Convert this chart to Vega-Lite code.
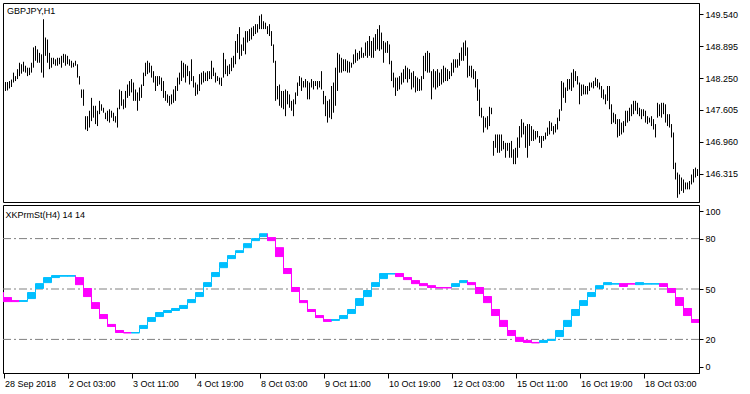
{
"$schema":"https://vega.github.io/schema/vega-lite/v6.json",
"padding":{"left":2,"top":2,"right":0,"bottom":0},
"spacing":1,
"background":"white",
"config":{
"view":{"stroke":"#000","strokeWidth":1},
"axis":{"labelFont":"Liberation Sans","labelFontSize":9,"labelColor":"#000","tickColor":"#000","domainColor":"#000","grid":false,"title":null},
"title":{"font":"Liberation Sans","fontSize":9,"fontWeight":"normal","color":"#000","anchor":"start"}
},
"datasets":{
"bars":[
{"i":1,"h":148.17,"l":147.99},{"i":2,"h":148.17,"l":148.00},{"i":3,"h":148.19,"l":148.04},{"i":4,"h":148.22,"l":148.07},{"i":5,"h":148.36,"l":148.16},{"i":6,"h":148.29,"l":148.19},{"i":7,"h":148.43,"l":148.23},{"i":8,"h":148.56,"l":148.29},{"i":9,"h":148.53,"l":148.34},{"i":10,"h":148.58,"l":148.38},
{"i":11,"h":148.50,"l":148.36},{"i":12,"h":148.46,"l":148.29},{"i":13,"h":148.46,"l":148.31},{"i":14,"h":148.56,"l":148.36},{"i":15,"h":148.87,"l":148.46},{"i":16,"h":148.90,"l":148.60},{"i":17,"h":148.83,"l":148.56},{"i":18,"h":148.76,"l":148.56},{"i":19,"h":148.73,"l":148.36},{"i":20,"h":149.44,"l":148.26},
{"i":21,"h":149.07,"l":148.70},{"i":22,"h":149.03,"l":148.56},{"i":23,"h":148.76,"l":148.43},{"i":24,"h":148.66,"l":148.46},{"i":25,"h":148.66,"l":148.53},{"i":26,"h":148.63,"l":148.50},{"i":27,"h":148.66,"l":148.50},{"i":28,"h":148.66,"l":148.53},{"i":29,"h":148.70,"l":148.46},{"i":30,"h":148.74,"l":148.56},
{"i":31,"h":148.73,"l":148.50},{"i":32,"h":148.70,"l":148.53},{"i":33,"h":148.63,"l":148.50},{"i":34,"h":148.60,"l":148.46},{"i":35,"h":148.56,"l":148.47},{"i":36,"h":148.60,"l":148.50},{"i":37,"h":148.53,"l":148.26},{"i":38,"h":148.29,"l":148.12},{"i":39,"h":148.02,"l":147.85},{"i":40,"h":148.02,"l":147.69},
{"i":41,"h":147.48,"l":147.21},{"i":42,"h":147.48,"l":147.18},{"i":43,"h":147.59,"l":147.25},{"i":44,"h":147.85,"l":147.38},{"i":45,"h":147.69,"l":147.45},{"i":46,"h":147.69,"l":147.32},{"i":47,"h":147.59,"l":147.28},{"i":48,"h":147.79,"l":147.52},{"i":49,"h":147.72,"l":147.59},{"i":50,"h":147.65,"l":147.55},
{"i":51,"h":147.55,"l":147.42},{"i":52,"h":147.59,"l":147.38},{"i":53,"h":147.62,"l":147.35},{"i":54,"h":147.59,"l":147.45},{"i":55,"h":147.55,"l":147.38},{"i":56,"h":147.48,"l":147.35},{"i":57,"h":147.65,"l":147.25},{"i":58,"h":148.02,"l":147.62},{"i":59,"h":147.99,"l":147.69},{"i":60,"h":147.82,"l":147.62},
{"i":61,"h":147.99,"l":147.65},{"i":62,"h":148.12,"l":147.85},{"i":63,"h":148.19,"l":147.89},{"i":64,"h":148.23,"l":147.96},{"i":65,"h":148.16,"l":147.79},{"i":66,"h":148.02,"l":147.79},{"i":67,"h":147.96,"l":147.59},{"i":68,"h":148.06,"l":147.79},{"i":69,"h":148.12,"l":147.85},{"i":70,"h":148.36,"l":148.09},
{"i":71,"h":148.56,"l":148.29},{"i":72,"h":148.60,"l":148.33},{"i":73,"h":148.56,"l":148.36},{"i":74,"h":148.50,"l":148.26},{"i":75,"h":148.39,"l":148.16},{"i":76,"h":148.29,"l":147.99},{"i":77,"h":148.29,"l":148.09},{"i":78,"h":148.29,"l":148.12},{"i":79,"h":148.26,"l":147.99},{"i":80,"h":148.19,"l":147.85},
{"i":81,"h":147.99,"l":147.79},{"i":82,"h":147.92,"l":147.75},{"i":83,"h":147.89,"l":147.69},{"i":84,"h":147.92,"l":147.72},{"i":85,"h":148.02,"l":147.75},{"i":86,"h":148.09,"l":147.79},{"i":87,"h":148.26,"l":147.99},{"i":88,"h":148.36,"l":148.12},{"i":89,"h":148.60,"l":148.19},{"i":90,"h":148.56,"l":148.26},
{"i":91,"h":148.53,"l":148.16},{"i":92,"h":148.50,"l":148.29},{"i":93,"h":148.39,"l":148.12},{"i":94,"h":148.63,"l":148.19},{"i":95,"h":148.29,"l":148.06},{"i":96,"h":148.16,"l":147.89},{"i":97,"h":148.12,"l":147.92},{"i":98,"h":148.33,"l":147.99},{"i":99,"h":148.36,"l":148.12},{"i":100,"h":148.39,"l":148.16},
{"i":101,"h":148.36,"l":148.19},{"i":102,"h":148.39,"l":148.19},{"i":103,"h":148.39,"l":148.23},{"i":104,"h":148.60,"l":148.23},{"i":105,"h":148.46,"l":148.29},{"i":106,"h":148.36,"l":148.16},{"i":107,"h":148.29,"l":148.19},{"i":108,"h":148.26,"l":148.12},{"i":109,"h":148.26,"l":148.09},{"i":110,"h":148.76,"l":148.26},
{"i":111,"h":148.63,"l":148.33},{"i":112,"h":148.50,"l":148.29},{"i":113,"h":148.53,"l":148.33},{"i":114,"h":148.66,"l":148.39},{"i":115,"h":148.70,"l":148.46},{"i":116,"h":149.00,"l":148.53},{"i":117,"h":149.14,"l":148.76},{"i":118,"h":149.28,"l":148.63},{"i":119,"h":148.93,"l":148.70},{"i":120,"h":149.07,"l":148.80},
{"i":121,"h":149.20,"l":148.73},{"i":122,"h":149.20,"l":148.97},{"i":123,"h":149.24,"l":149.00},{"i":124,"h":149.27,"l":149.03},{"i":125,"h":149.30,"l":149.10},{"i":126,"h":149.34,"l":149.14},{"i":127,"h":149.34,"l":149.17},{"i":128,"h":149.51,"l":149.24},{"i":129,"h":149.54,"l":149.24},{"i":130,"h":149.40,"l":149.24},
{"i":131,"h":149.37,"l":149.24},{"i":132,"h":149.30,"l":149.14},{"i":133,"h":149.34,"l":149.10},{"i":134,"h":149.20,"l":148.90},{"i":135,"h":148.93,"l":148.56},{"i":136,"h":148.60,"l":147.79},{"i":137,"h":148.09,"l":147.82},{"i":138,"h":148.12,"l":147.69},{"i":139,"h":147.99,"l":147.65},{"i":140,"h":147.99,"l":147.62},
{"i":141,"h":148.02,"l":147.48},{"i":142,"h":147.99,"l":147.72},{"i":143,"h":147.92,"l":147.65},{"i":144,"h":147.79,"l":147.59},{"i":145,"h":147.82,"l":147.48},{"i":146,"h":147.96,"l":147.72},{"i":147,"h":148.16,"l":147.89},{"i":148,"h":148.29,"l":148.09},{"i":149,"h":148.26,"l":147.99},{"i":150,"h":148.19,"l":148.06},
{"i":151,"h":148.23,"l":148.06},{"i":152,"h":148.19,"l":147.82},{"i":153,"h":148.16,"l":147.82},{"i":154,"h":148.23,"l":148.06},{"i":155,"h":148.19,"l":148.02},{"i":156,"h":148.19,"l":148.09},{"i":157,"h":148.19,"l":148.02},{"i":158,"h":148.19,"l":148.06},{"i":159,"h":148.39,"l":148.02},{"i":160,"h":147.99,"l":147.72},
{"i":161,"h":147.89,"l":147.48},{"i":162,"h":147.79,"l":147.35},{"i":163,"h":147.82,"l":147.45},{"i":164,"h":148.09,"l":147.42},{"i":165,"h":148.16,"l":147.55},{"i":166,"h":148.46,"l":147.69},{"i":167,"h":148.76,"l":147.99},{"i":168,"h":148.73,"l":148.36},{"i":169,"h":148.66,"l":148.36},{"i":170,"h":148.63,"l":148.39},
{"i":171,"h":148.63,"l":148.39},{"i":172,"h":148.60,"l":148.36},{"i":173,"h":148.58,"l":148.36},{"i":174,"h":148.56,"l":148.46},{"i":175,"h":148.73,"l":148.53},{"i":176,"h":148.83,"l":148.56},{"i":177,"h":148.76,"l":148.60},{"i":178,"h":148.80,"l":148.63},{"i":179,"h":148.87,"l":148.66},{"i":180,"h":148.76,"l":148.66},
{"i":181,"h":148.97,"l":148.70},{"i":182,"h":149.00,"l":148.66},{"i":183,"h":149.10,"l":148.70},{"i":184,"h":149.00,"l":148.66},{"i":185,"h":149.07,"l":148.66},{"i":186,"h":149.14,"l":148.80},{"i":187,"h":149.24,"l":148.83},{"i":188,"h":149.32,"l":148.80},{"i":189,"h":149.17,"l":148.83},{"i":190,"h":149.00,"l":148.56},
{"i":191,"h":148.97,"l":148.76},{"i":192,"h":149.00,"l":148.76},{"i":193,"h":148.93,"l":148.53},{"i":194,"h":148.60,"l":148.19},{"i":195,"h":148.36,"l":148.06},{"i":196,"h":148.26,"l":147.89},{"i":197,"h":148.26,"l":147.99},{"i":198,"h":148.29,"l":148.02},{"i":199,"h":148.36,"l":148.12},{"i":200,"h":148.43,"l":148.16},
{"i":201,"h":148.50,"l":148.23},{"i":202,"h":148.46,"l":148.16},{"i":203,"h":148.43,"l":148.23},{"i":204,"h":148.36,"l":148.02},{"i":205,"h":148.39,"l":148.06},{"i":206,"h":148.29,"l":147.96},{"i":207,"h":148.26,"l":147.99},{"i":208,"h":148.23,"l":147.99},{"i":209,"h":148.29,"l":148.00},{"i":210,"h":148.70,"l":148.23},
{"i":211,"h":148.76,"l":148.39},{"i":212,"h":148.80,"l":148.36},{"i":213,"h":148.76,"l":148.36},{"i":214,"h":148.39,"l":147.82},{"i":215,"h":148.43,"l":148.06},{"i":216,"h":148.39,"l":148.02},{"i":217,"h":148.43,"l":148.06},{"i":218,"h":148.36,"l":148.09},{"i":219,"h":148.43,"l":148.12},{"i":220,"h":148.50,"l":148.16},
{"i":221,"h":148.46,"l":148.19},{"i":222,"h":148.43,"l":148.19},{"i":223,"h":148.39,"l":148.23},{"i":224,"h":148.56,"l":148.29},{"i":225,"h":148.63,"l":148.36},{"i":226,"h":148.63,"l":148.46},{"i":227,"h":148.63,"l":148.46},{"i":228,"h":148.76,"l":148.50},{"i":229,"h":148.87,"l":148.60},{"i":230,"h":148.97,"l":148.60},
{"i":231,"h":149.01,"l":148.70},{"i":232,"h":148.87,"l":148.26},{"i":233,"h":148.50,"l":148.29},{"i":234,"h":148.50,"l":148.26},{"i":235,"h":148.43,"l":148.23},{"i":236,"h":148.39,"l":148.06},{"i":237,"h":148.23,"l":147.79},{"i":238,"h":148.02,"l":147.48},{"i":239,"h":147.65,"l":147.45},{"i":240,"h":147.48,"l":147.15},
{"i":241,"h":147.45,"l":147.25},{"i":242,"h":147.48,"l":147.21},{"i":243,"h":147.67,"l":147.28},{"i":244,"h":147.65,"l":147.52},{"i":245,"h":146.98,"l":146.68},{"i":246,"h":147.11,"l":146.84},{"i":247,"h":147.11,"l":146.74},{"i":248,"h":147.11,"l":146.74},{"i":249,"h":147.11,"l":146.78},{"i":250,"h":146.98,"l":146.81},
{"i":251,"h":146.94,"l":146.64},{"i":252,"h":146.94,"l":146.78},{"i":253,"h":146.94,"l":146.64},{"i":254,"h":146.98,"l":146.64},{"i":255,"h":146.81,"l":146.51},{"i":256,"h":146.84,"l":146.51},{"i":257,"h":147.05,"l":146.64},{"i":258,"h":147.28,"l":146.84},{"i":259,"h":147.42,"l":147.05},{"i":260,"h":147.35,"l":147.11},
{"i":261,"h":147.28,"l":146.84},{"i":262,"h":147.32,"l":146.64},{"i":263,"h":147.32,"l":146.88},{"i":264,"h":147.28,"l":146.98},{"i":265,"h":147.21,"l":146.98},{"i":266,"h":147.18,"l":147.01},{"i":267,"h":147.18,"l":147.05},{"i":268,"h":147.08,"l":146.94},{"i":269,"h":147.08,"l":146.84},{"i":270,"h":147.08,"l":146.98},
{"i":271,"h":147.15,"l":147.01},{"i":272,"h":147.25,"l":147.08},{"i":273,"h":147.38,"l":147.11},{"i":274,"h":147.35,"l":147.18},{"i":275,"h":147.28,"l":147.11},{"i":276,"h":147.32,"l":147.15},{"i":277,"h":147.45,"l":147.21},{"i":278,"h":147.62,"l":147.38},{"i":279,"h":148.19,"l":147.59},{"i":280,"h":148.16,"l":147.85},
{"i":281,"h":148.06,"l":147.75},{"i":282,"h":148.23,"l":147.99},{"i":283,"h":148.23,"l":148.02},{"i":284,"h":148.36,"l":147.99},{"i":285,"h":148.43,"l":148.06},{"i":286,"h":148.39,"l":148.19},{"i":287,"h":148.29,"l":148.12},{"i":288,"h":148.16,"l":147.72},{"i":289,"h":148.12,"l":147.89},{"i":290,"h":148.12,"l":147.92},
{"i":291,"h":148.09,"l":147.92},{"i":292,"h":148.09,"l":147.92},{"i":293,"h":148.16,"l":147.99},{"i":294,"h":148.16,"l":148.06},{"i":295,"h":148.19,"l":148.04},{"i":296,"h":148.26,"l":148.09},{"i":297,"h":148.23,"l":148.06},{"i":298,"h":148.16,"l":148.02},{"i":299,"h":148.09,"l":147.85},{"i":300,"h":148.02,"l":147.82},
{"i":301,"h":147.92,"l":147.72},{"i":302,"h":148.09,"l":147.79},{"i":303,"h":148.09,"l":147.62},{"i":304,"h":147.72,"l":147.32},{"i":305,"h":147.55,"l":147.35},{"i":306,"h":147.52,"l":147.32},{"i":307,"h":147.42,"l":147.05},{"i":308,"h":147.42,"l":147.08},{"i":309,"h":147.35,"l":147.11},{"i":310,"h":147.38,"l":147.15},
{"i":311,"h":147.59,"l":147.28},{"i":312,"h":147.59,"l":147.35},{"i":313,"h":147.65,"l":147.38},{"i":314,"h":147.72,"l":147.48},{"i":315,"h":147.79,"l":147.52},{"i":316,"h":147.79,"l":147.59},{"i":317,"h":147.75,"l":147.52},{"i":318,"h":147.65,"l":147.48},{"i":319,"h":147.62,"l":147.42},{"i":320,"h":147.62,"l":147.48},
{"i":321,"h":147.59,"l":147.35},{"i":322,"h":147.48,"l":147.32},{"i":323,"h":147.45,"l":147.35},{"i":324,"h":147.48,"l":147.28},{"i":325,"h":147.42,"l":147.21},{"i":326,"h":147.32,"l":147.05},{"i":327,"h":147.75,"l":147.45},{"i":328,"h":147.72,"l":147.48},{"i":329,"h":147.75,"l":147.45},{"i":330,"h":147.75,"l":147.52},
{"i":331,"h":147.72,"l":147.35},{"i":332,"h":147.52,"l":147.28},{"i":333,"h":147.52,"l":147.25},{"i":334,"h":147.32,"l":147.05},{"i":335,"h":147.15,"l":146.41},{"i":336,"h":146.54,"l":146.20},{"i":337,"h":146.34,"l":145.83},{"i":338,"h":146.30,"l":145.90},{"i":339,"h":146.24,"l":145.97},{"i":340,"h":146.20,"l":145.93},
{"i":341,"h":146.14,"l":146.00},{"i":342,"h":146.14,"l":146.00},{"i":343,"h":146.17,"l":146.00},{"i":344,"h":146.30,"l":146.10},{"i":345,"h":146.41,"l":146.14},{"i":346,"h":146.44,"l":146.24},{"i":347,"h":146.41,"l":146.27}
],
"steps":[
{"s":-4,"e":0,"t":47.9,"b":43.7,"c":"dn"},{"s":0,"e":4,"t":44.9,"b":42.5,"c":"dn"},{"s":4,"e":8,"t":43.1,"b":42.5,"c":"dn"},{"s":8,"e":12,"t":43.1,"b":42.6,"c":"up"},{"s":12,"e":16,"t":47.9,"b":44.3,"c":"up"},{"s":16,"e":20,"t":53.2,"b":50.3,"c":"up"},{"s":20,"e":24,"t":56.8,"b":53.8,"c":"up"},{"s":24,"e":28,"t":58.0,"b":56.8,"c":"up"},{"s":28,"e":32,"t":58.0,"b":57.6,"c":"up"},{"s":32,"e":36,"t":58.0,"b":57.6,"c":"up"},
{"s":36,"e":40,"t":56.8,"b":52.6,"c":"dn"},{"s":40,"e":44,"t":50.3,"b":45.5,"c":"dn"},{"s":44,"e":48,"t":41.9,"b":38.4,"c":"dn"},{"s":48,"e":52,"t":34.8,"b":32.4,"c":"dn"},{"s":52,"e":56,"t":28.9,"b":27.7,"c":"dn"},{"s":56,"e":60,"t":25.3,"b":24.1,"c":"dn"},{"s":60,"e":64,"t":24.1,"b":23.8,"c":"dn"},{"s":64,"e":68,"t":24.1,"b":23.8,"c":"up"},{"s":68,"e":72,"t":28.3,"b":26.5,"c":"up"},{"s":72,"e":76,"t":33.0,"b":30.7,"c":"up"},
{"s":76,"e":80,"t":36.0,"b":33.6,"c":"up"},{"s":80,"e":84,"t":37.2,"b":36.0,"c":"up"},{"s":84,"e":88,"t":38.4,"b":37.2,"c":"up"},{"s":88,"e":92,"t":40.2,"b":38.4,"c":"up"},{"s":92,"e":96,"t":43.7,"b":41.9,"c":"up"},{"s":96,"e":100,"t":47.9,"b":45.5,"c":"up"},{"s":100,"e":104,"t":53.8,"b":51.5,"c":"up"},{"s":104,"e":108,"t":59.8,"b":57.4,"c":"up"},{"s":108,"e":112,"t":65.7,"b":62.7,"c":"up"},{"s":112,"e":116,"t":69.9,"b":68.1,"c":"up"},
{"s":116,"e":120,"t":72.8,"b":71.7,"c":"up"},{"s":120,"e":124,"t":77.0,"b":74.6,"c":"up"},{"s":124,"e":128,"t":80.0,"b":78.8,"c":"up"},{"s":128,"e":132,"t":82.9,"b":81.2,"c":"up"},{"s":132,"e":136,"t":80.6,"b":78.8,"c":"dn"},{"s":136,"e":140,"t":74.6,"b":69.3,"c":"dn"},{"s":140,"e":144,"t":62.2,"b":59.2,"c":"dn"},{"s":144,"e":148,"t":50.9,"b":48.5,"c":"dn"},{"s":148,"e":152,"t":43.1,"b":41.9,"c":"dn"},{"s":152,"e":156,"t":37.8,"b":36.6,"c":"dn"},
{"s":156,"e":160,"t":34.2,"b":33.0,"c":"dn"},{"s":160,"e":164,"t":31.8,"b":30.7,"c":"dn"},{"s":164,"e":168,"t":31.8,"b":31.3,"c":"up"},{"s":168,"e":172,"t":34.2,"b":32.4,"c":"up"},{"s":172,"e":176,"t":37.8,"b":35.4,"c":"up"},{"s":176,"e":180,"t":44.3,"b":40.2,"c":"up"},{"s":180,"e":184,"t":49.1,"b":45.5,"c":"up"},{"s":184,"e":188,"t":53.8,"b":51.5,"c":"up"},{"s":188,"e":192,"t":59.2,"b":56.2,"c":"up"},{"s":192,"e":196,"t":59.2,"b":58.9,"c":"up"},
{"s":196,"e":200,"t":59.2,"b":57.4,"c":"dn"},{"s":200,"e":204,"t":56.8,"b":55.6,"c":"dn"},{"s":204,"e":208,"t":55.0,"b":53.2,"c":"dn"},{"s":208,"e":212,"t":53.2,"b":52.0,"c":"dn"},{"s":212,"e":216,"t":52.0,"b":50.9,"c":"dn"},{"s":216,"e":220,"t":50.9,"b":50.6,"c":"dn"},{"s":220,"e":224,"t":50.9,"b":50.6,"c":"dn"},{"s":224,"e":228,"t":53.2,"b":51.5,"c":"up"},{"s":228,"e":232,"t":55.0,"b":53.8,"c":"up"},{"s":232,"e":236,"t":53.8,"b":52.6,"c":"dn"},
{"s":236,"e":240,"t":50.9,"b":47.3,"c":"dn"},{"s":240,"e":244,"t":45.5,"b":41.9,"c":"dn"},{"s":244,"e":248,"t":37.8,"b":34.2,"c":"dn"},{"s":248,"e":252,"t":31.3,"b":27.7,"c":"dn"},{"s":252,"e":256,"t":25.3,"b":22.3,"c":"dn"},{"s":256,"e":260,"t":21.2,"b":18.8,"c":"dn"},{"s":260,"e":264,"t":19.4,"b":18.2,"c":"dn"},{"s":264,"e":268,"t":18.2,"b":17.9,"c":"dn"},{"s":268,"e":272,"t":19.4,"b":18.2,"c":"up"},{"s":272,"e":276,"t":20.0,"b":19.4,"c":"up"},
{"s":276,"e":280,"t":25.3,"b":21.7,"c":"up"},{"s":280,"e":284,"t":31.3,"b":27.7,"c":"up"},{"s":284,"e":288,"t":37.8,"b":34.2,"c":"up"},{"s":288,"e":292,"t":43.1,"b":40.2,"c":"up"},{"s":292,"e":296,"t":47.9,"b":45.5,"c":"up"},{"s":296,"e":300,"t":52.0,"b":50.3,"c":"up"},{"s":300,"e":304,"t":53.8,"b":52.6,"c":"up"},{"s":304,"e":308,"t":53.2,"b":52.9,"c":"up"},{"s":308,"e":312,"t":53.2,"b":51.5,"c":"dn"},{"s":312,"e":316,"t":53.2,"b":52.9,"c":"dn"},
{"s":316,"e":320,"t":53.8,"b":52.6,"c":"up"},{"s":320,"e":324,"t":53.2,"b":52.9,"c":"up"},{"s":324,"e":328,"t":53.2,"b":52.9,"c":"up"},{"s":328,"e":332,"t":53.2,"b":51.5,"c":"dn"},{"s":332,"e":336,"t":50.3,"b":47.9,"c":"dn"},{"s":336,"e":340,"t":44.9,"b":40.2,"c":"dn"},{"s":340,"e":344,"t":38.4,"b":34.2,"c":"dn"},{"s":344,"e":348,"t":31.8,"b":30.1,"c":"dn"}
],
"levels":[{"v":20},{"v":50},{"v":80}]
},
"vconcat":[
{
"width":696,"height":199,
"title":{"text":"GBPJPY,H1","offset":-13,"dx":4},
"data":{"name":"bars"},
"mark":{"type":"rule","color":"#000","strokeWidth":1},
"encoding":{
"x":{"field":"i","type":"quantitative","scale":{"domain":[-0.25,347.75],"nice":false,"zero":false},"axis":null},
"y":{"field":"h","type":"quantitative","scale":{"domain":[145.745,149.768],"nice":false,"zero":false},"axis":{"orient":"right","values":[146.315,146.96,147.605,148.25,148.895,149.54],"format":".3f","tickSize":4,"labelPadding":2}},
"y2":{"field":"l"}
}
},
{
"width":696,"height":168,
"title":{"text":"XKPrmSt(H4) 14 14","offset":-15,"dx":3},
"layer":[
{
"data":{"name":"levels"},
"mark":{"type":"rule","color":"#808080","strokeWidth":1,"strokeDash":[8,3,2,3]},
"encoding":{
"y":{"field":"v","type":"quantitative","scale":{"domain":[0,100],"nice":false,"zero":false},"axis":{"orient":"right","values":[3.6,20,50,80,96.4],"labelExpr":"datum.value > 90 ? '100' : datum.value < 10 ? '0' : toString(datum.value)","tickSize":4,"labelPadding":2}}
}
},
{
"data":{"name":"steps"},
"mark":{"type":"rect","strokeWidth":1,"clip":true},
"encoding":{
"x":{"field":"s","type":"quantitative","scale":{"domain":[-0.25,347.75],"nice":false,"zero":false},"axis":{"orient":"bottom","values":[0,32,64,96,128,160,192,224,256,288,320],"labelExpr":"['28 Sep 2018','2 Oct 03:00','3 Oct 11:00','4 Oct 19:00','8 Oct 03:00','9 Oct 11:00','10 Oct 19:00','12 Oct 03:00','15 Oct 11:00','16 Oct 19:00','18 Oct 03:00'][round(datum.value/32)]","labelAlign":"left","labelOffset":1,"labelPadding":1,"tickSize":5,"labelFlush":false,"labelOverlap":false,"labelBound":false}},
"x2":{"field":"e"},
"y":{"field":"t","type":"quantitative","scale":{"domain":[0,100],"nice":false,"zero":false},"axis":{"orient":"right","values":[3.6,20,50,80,96.4],"labelExpr":"datum.value > 90 ? '100' : datum.value < 10 ? '0' : toString(datum.value)","tickSize":4,"labelPadding":2}},
"y2":{"field":"b"},
"color":{"field":"c","type":"nominal","scale":{"domain":["up","dn"],"range":["#00BFFF","#FF00FF"]},"legend":null},
"stroke":{"field":"c","type":"nominal","scale":{"domain":["up","dn"],"range":["#00BFFF","#FF00FF"]},"legend":null}
}
},
{
"data":{"name":"steps"},
"transform":[{"window":[{"op":"lag","field":"t","as":"pt"}],"sort":[{"field":"s"}]},{"filter":"isValid(datum.pt)"}],
"mark":{"type":"rule","strokeWidth":1,"clip":true},
"encoding":{
"x":{"field":"s","type":"quantitative","scale":{"domain":[-0.25,347.75],"nice":false,"zero":false},"axis":{"orient":"bottom","values":[0,32,64,96,128,160,192,224,256,288,320],"labelExpr":"['28 Sep 2018','2 Oct 03:00','3 Oct 11:00','4 Oct 19:00','8 Oct 03:00','9 Oct 11:00','10 Oct 19:00','12 Oct 03:00','15 Oct 11:00','16 Oct 19:00','18 Oct 03:00'][round(datum.value/32)]","labelAlign":"left","labelOffset":1,"labelPadding":1,"tickSize":5,"labelFlush":false,"labelOverlap":false,"labelBound":false}},
"y":{"field":"pt","type":"quantitative","scale":{"domain":[0,100],"nice":false,"zero":false},"axis":{"orient":"right","values":[3.6,20,50,80,96.4],"labelExpr":"datum.value > 90 ? '100' : datum.value < 10 ? '0' : toString(datum.value)","tickSize":4,"labelPadding":2}},
"y2":{"field":"b"},
"color":{"field":"c","type":"nominal","scale":{"domain":["up","dn"],"range":["#00BFFF","#FF00FF"]},"legend":null}
}
}
]
}
]
}
